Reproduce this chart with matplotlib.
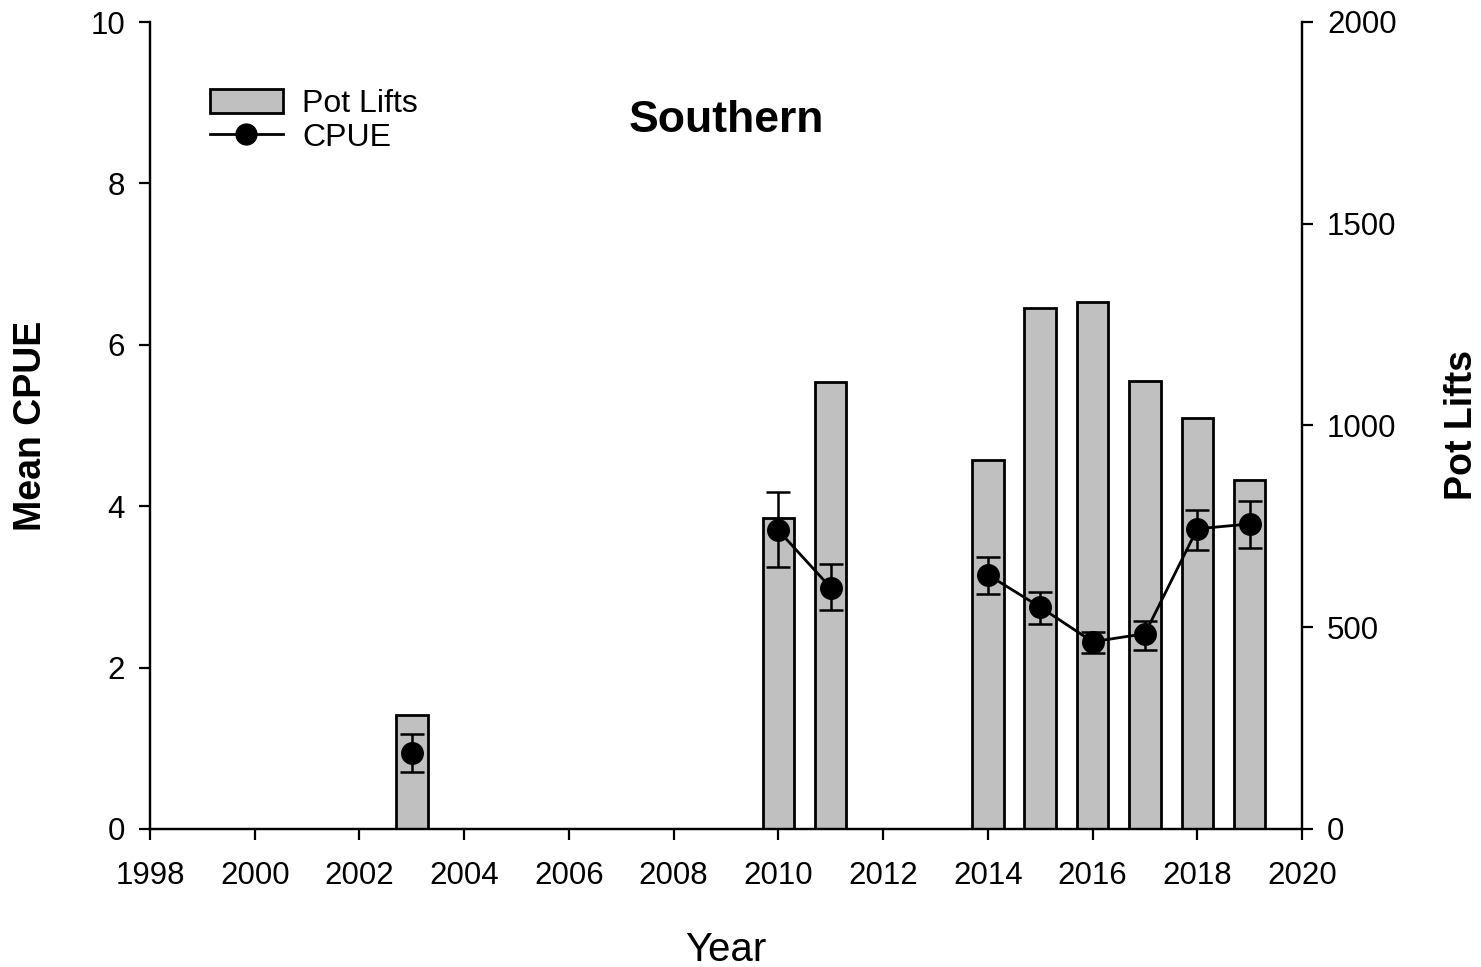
import numpy as np
import matplotlib
matplotlib.use("Agg")
import matplotlib.pyplot as plt
from matplotlib.patches import Patch
from matplotlib.lines import Line2D

plt.rcParams['font.family'] = ['Liberation Sans', 'DejaVu Sans']

# Data
years = [2003, 2010, 2011, 2014, 2015, 2016, 2017, 2018, 2019]
pot_lifts = [283, 771, 1108, 914, 1291, 1306, 1110, 1019, 865]
cpue = [0.94, 3.70, 2.99, 3.15, 2.75, 2.32, 2.42, 3.72, 3.78]
cpue_upper = [1.18, 4.18, 3.28, 3.37, 2.94, 2.44, 2.58, 3.95, 4.06]
cpue_lower = [0.71, 3.25, 2.71, 2.91, 2.54, 2.18, 2.22, 3.46, 3.48]

# CPUE line breaks where there is a gap in years
segments = [[0], [1, 2], [3, 4, 5, 6, 7, 8]]

fig = plt.figure(figsize=(14.81, 9.67), dpi=100)
ax = fig.add_axes([150/1481, 1 - 829/967, 1152/1481, 807/967])
ax2 = ax.twinx()
ax.set_zorder(ax2.get_zorder() + 1)
ax.patch.set_visible(False)

ax2.bar(years, pot_lifts, width=0.6, color='#c0c0c0', edgecolor='black',
        linewidth=2)

yerr = np.array([np.array(cpue) - np.array(cpue_lower),
                 np.array(cpue_upper) - np.array(cpue)])
for seg in segments:
    ax.plot([years[i] for i in seg], [cpue[i] for i in seg], color='black',
            linewidth=2)
ax.errorbar(years, cpue, yerr=yerr, fmt='o', color='black', markersize=15.5,
            capsize=8.5, elinewidth=1.8, capthick=1.8)

ax.set_xlim(1998, 2020)
ax.set_ylim(0, 10)
ax2.set_ylim(0, 2000)
ax.set_xticks(np.arange(1998, 2021, 2))
ax.set_yticks(np.arange(0, 11, 2))
ax2.set_yticks(np.arange(0, 2001, 500))

for a in (ax, ax2):
    a.spines['top'].set_visible(False)
    for s in a.spines.values():
        s.set_linewidth(1.6)
    a.tick_params(direction='out', length=8, width=1.6, labelsize=22.5, pad=10)
ax.tick_params(axis='x', pad=15)

ax.set_xlabel('Year', fontsize=29, labelpad=29)
ax.set_ylabel('Mean CPUE', fontsize=27, fontweight='bold', labelpad=30)
ax2.set_ylabel('Pot Lifts', fontsize=27, fontweight='bold', labelpad=34)

ax.text(0.5, 0.878, 'Southern', transform=ax.transAxes, ha='center',
        va='center', fontsize=32, fontweight='bold')

handles = [Patch(facecolor='#c0c0c0', edgecolor='black', linewidth=2),
           Line2D([], [], color='black', marker='o', markersize=15, linewidth=2)]
ax.legend(handles, ['Pot Lifts', 'CPUE'], loc='upper left',
          bbox_to_anchor=(0.038, 0.937), frameon=False, fontsize=23,
          handlelength=2.3, handleheight=0.8, handletextpad=0.6,
          labelspacing=0.1, borderpad=0)

fig.savefig('out.png', dpi=100)
